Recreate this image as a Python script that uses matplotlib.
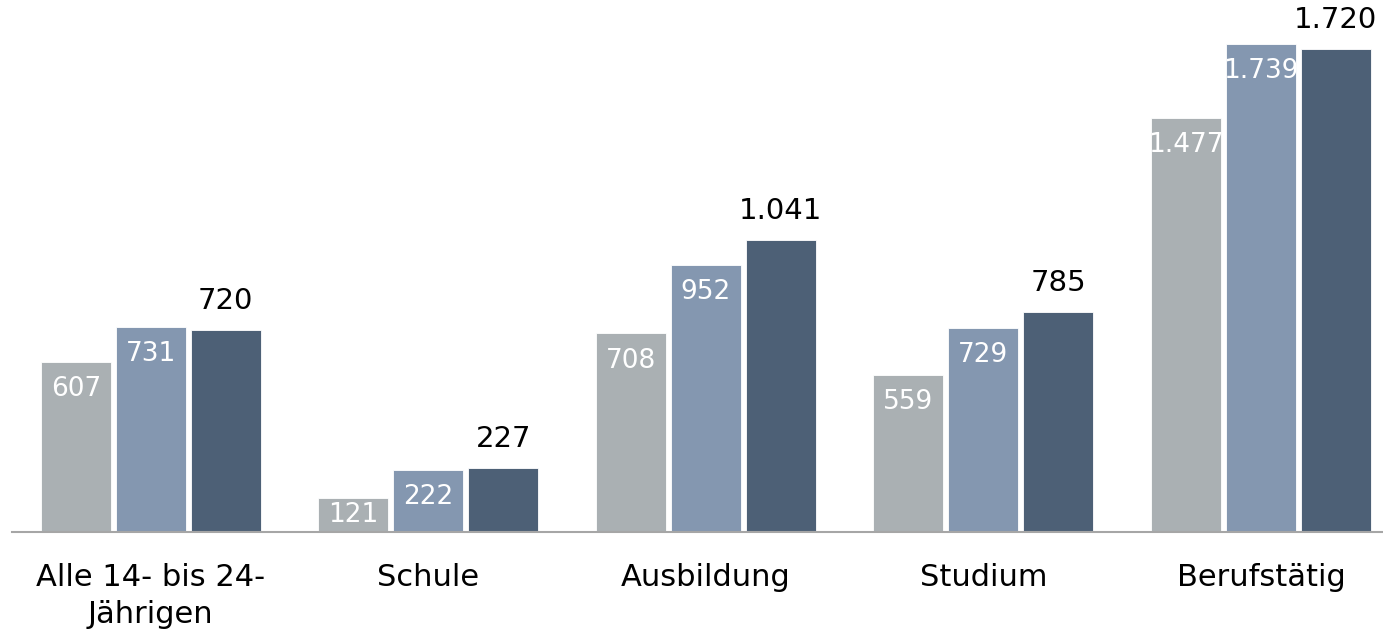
import matplotlib
matplotlib.use("Agg")
import matplotlib.pyplot as plt
import numpy as np

categories = ["Alle 14- bis 24-\nJährigen", "Schule", "Ausbildung", "Studium", "Berufstätig"]
series_a = [607, 121, 708, 559, 1477]
series_b = [731, 222, 952, 729, 1739]
series_c = [720, 227, 1041, 785, 1720]

colors = ["#AAB0B3", "#8497B0", "#4D6076"]


def fmt(v):
    return f"{v:,}".replace(",", ".")


fig = plt.figure(figsize=(13.83, 6.32), dpi=100)
ax = fig.add_axes([0.0087, 0.158, 0.9913, 0.842])

x = np.arange(len(categories))
pitch = 0.27
width = 0.252
ymax = 1896
inside_off = 0.051 * ymax  # label distance below bar top

for i, (vals, col) in enumerate(zip([series_a, series_b, series_c], colors)):
    pos = x + (i - 1) * pitch
    ax.bar(pos, vals, width=width, color=col, edgecolor="#FFFFFF", linewidth=0.6)
    for p, v in zip(pos, vals):
        if i < 2:
            ly = v - inside_off if v > 2 * inside_off else v / 2
            ax.text(p, ly, fmt(v), ha="center", va="center", color="white", fontsize=19)
        else:
            ax.annotate(fmt(v), xy=(p, v), xytext=(0, 21), textcoords="offset points",
                        ha="center", va="center", color="black", fontsize=21)

ax.set_xlim(-0.5, 4.44)
ax.set_ylim(0, ymax)
ax.set_xticks(x)
ax.set_xticklabels(categories, fontsize=22, linespacing=1.35)
ax.tick_params(axis="x", length=0, pad=22)
ax.set_yticks([])
for s in ["top", "right", "left"]:
    ax.spines[s].set_visible(False)
ax.spines["bottom"].set_color("#A6A6A6")
ax.spines["bottom"].set_linewidth(1.5)

fig.savefig("out.png", dpi=100)
